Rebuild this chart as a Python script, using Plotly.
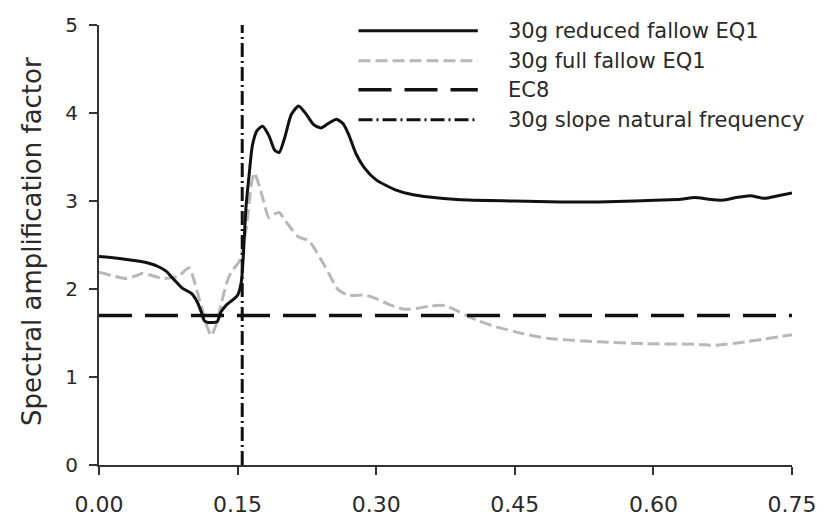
import plotly.graph_objects as go

# ---- data ----
reduced_x = [0.000, 0.020, 0.040, 0.055, 0.065, 0.073, 0.080, 0.090, 0.100, 0.1065,
             0.111, 0.114, 0.118, 0.123, 0.128, 0.132, 0.138, 0.144, 0.150, 0.154,
             0.156, 0.159, 0.1625, 0.166, 0.171, 0.177, 0.184, 0.190, 0.195, 0.201,
             0.208, 0.216, 0.224, 0.232, 0.240, 0.248, 0.257, 0.264, 0.270, 0.278,
             0.287, 0.300, 0.320, 0.340, 0.370, 0.400, 0.450, 0.500, 0.540, 0.580,
             0.610, 0.630, 0.645, 0.660, 0.675, 0.690, 0.705, 0.720, 0.735, 0.750]
reduced_y = [2.37, 2.35, 2.32, 2.29, 2.25, 2.20, 2.12, 2.01, 1.95, 1.85,
             1.73, 1.64, 1.62, 1.62, 1.63, 1.74, 1.82, 1.87, 1.93, 2.08,
             2.34, 2.92, 3.30, 3.63, 3.80, 3.85, 3.74, 3.58, 3.55, 3.72,
             3.98, 4.08, 3.99, 3.87, 3.83, 3.88, 3.93, 3.88, 3.76, 3.54,
             3.38, 3.24, 3.13, 3.07, 3.03, 3.01, 3.00, 2.99, 2.99, 3.00,
             3.01, 3.02, 3.04, 3.02, 3.01, 3.04, 3.06, 3.03, 3.06, 3.09]

full_x = [0.000, 0.015, 0.029, 0.040, 0.047, 0.058, 0.069, 0.080, 0.087, 0.094,
          0.098, 0.102, 0.106, 0.112, 0.117, 0.1215, 0.126, 0.132, 0.138, 0.143,
          0.152, 0.159, 0.165, 0.168, 0.172, 0.176, 0.184, 0.190, 0.195, 0.202,
          0.216, 0.227, 0.245, 0.259, 0.270, 0.288, 0.300, 0.315, 0.330, 0.345,
          0.360, 0.375, 0.390, 0.410, 0.430, 0.460, 0.485, 0.540, 0.590, 0.650,
          0.665, 0.700, 0.750]
full_y = [2.19, 2.15, 2.12, 2.15, 2.18, 2.15, 2.12, 2.13, 2.15, 2.22,
          2.24, 2.13, 1.98, 1.76, 1.57, 1.47, 1.57, 1.82, 2.06, 2.19,
          2.32, 2.66, 3.20, 3.32, 3.22, 3.08, 2.81, 2.85, 2.87, 2.77,
          2.59, 2.55, 2.25, 1.99, 1.93, 1.93, 1.89, 1.82, 1.77, 1.78,
          1.81, 1.81, 1.74, 1.64, 1.57, 1.49, 1.44, 1.40, 1.38, 1.37,
          1.36, 1.40, 1.48]

ec8_level = 1.7
natural_freq = 0.155
x_range = [0.0, 0.75]
y_range = [0, 5]
x_ticks = [0.00, 0.15, 0.30, 0.45, 0.60, 0.75]
x_tick_text = ["0.00", "0.15", "0.30", "0.45", "0.60", "0.75"]
y_ticks = [0, 1, 2, 3, 4, 5]

legend_names = ["30g reduced fallow EQ1", "30g full fallow EQ1", "EC8",
                "30g slope natural frequency"]

# ---- styles ----
TXT = "#2a2a2a"
FONT = "DejaVu Sans"
solid_style = dict(color="#111111", width=3)
full_style = dict(color="#b8b8b8", width=3, dash="12px,5px")
ec8_style = dict(color="#111111", width=3.5, dash="33px,13px")
nf_style = dict(color="#111111", width=3, dash="14px,4px,2px,4px")

fig = go.Figure()
fig.add_trace(go.Scatter(x=full_x, y=full_y, mode="lines", line=full_style,
                         line_shape="spline", line_smoothing=0.6, showlegend=False))
fig.add_trace(go.Scatter(x=x_range, y=[ec8_level, ec8_level], mode="lines",
                         line=ec8_style, showlegend=False))
fig.add_trace(go.Scatter(x=reduced_x, y=reduced_y, mode="lines", line=solid_style,
                         line_shape="spline", line_smoothing=0.6, showlegend=False))
fig.add_trace(go.Scatter(x=[natural_freq, natural_freq], y=y_range, mode="lines",
                         line=nf_style, showlegend=False))

# ---- manual legend (long sample lines as in the reference) ----
W, H = 828, 529
L, R, T, B = 99, 32, 25, 49
pw, ph = W - L - R, H - T - B


def px_x(px):
    return (px - L) / pw


def px_y(py):
    return (H - B - py) / ph


styles = [solid_style, full_style, ec8_style, nf_style]
rows = [31, 62, 92, 123]
for name, st, ry in zip(legend_names, styles, rows):
    fig.add_shape(type="line", xref="paper", yref="paper",
                  x0=px_x(360), x1=px_x(480), y0=px_y(ry), y1=px_y(ry),
                  line=st)
    fig.add_annotation(xref="paper", yref="paper", x=px_x(508), y=px_y(ry),
                       text=name, showarrow=False, xanchor="left", yanchor="middle",
                       font=dict(family=FONT, size=21, color=TXT))

fig.add_annotation(xref="paper", yref="paper", x=px_x(31), y=px_y(249),
                   text="Spectral amplification factor", textangle=-90,
                   showarrow=False, xanchor="center", yanchor="middle",
                   font=dict(family=FONT, size=26, color=TXT))

fig.update_layout(
    width=W, height=H,
    margin=dict(l=L, r=R, t=T, b=B, pad=0),
    paper_bgcolor="white", plot_bgcolor="white",
    font=dict(family=FONT, size=20, color=TXT),
    xaxis=dict(range=x_range, tickvals=x_ticks, ticktext=x_tick_text,
               showgrid=False, zeroline=False, showline=True, linecolor="#333333",
               linewidth=2, ticks="outside", ticklen=8, tickwidth=2, tickcolor="#333333",
               ticklabelstandoff=11,
               tickfont=dict(family=FONT, size=22, color=TXT)),
    yaxis=dict(range=y_range, tickvals=y_ticks, showgrid=False, zeroline=False,
               showline=True, linecolor="#333333", linewidth=2, ticks="outside",
               ticklen=8, tickwidth=2, tickcolor="#333333", ticklabelstandoff=7,
               tickfont=dict(family=FONT, size=20, color=TXT)),
)

fig.write_html("out.html")
